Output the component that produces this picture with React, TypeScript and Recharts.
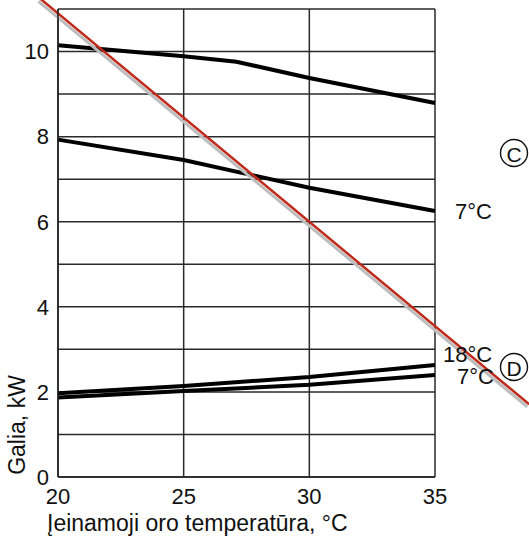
import React from "react";
import {
  LineChart,
  Line,
  XAxis,
  YAxis,
  CartesianGrid,
  ReferenceLine,
  Customized,
} from "recharts";

// temperature (°C) -> power (kW)
const coolingHigh = [
  { t: 20, p: 10.15 },
  { t: 25, p: 9.89 },
  { t: 27.1, p: 9.76 },
  { t: 30, p: 9.38 },
  { t: 35, p: 8.79 },
];
const cooling7 = [
  { t: 20, p: 7.93 },
  { t: 25, p: 7.45 },
  { t: 30, p: 6.8 },
  { t: 35, p: 6.25 },
];
const heating18 = [
  { t: 20, p: 1.97 },
  { t: 25, p: 2.14 },
  { t: 30, p: 2.35 },
  { t: 35, p: 2.63 },
];
const heating7 = [
  { t: 20, p: 1.87 },
  { t: 25, p: 2.02 },
  { t: 30, p: 2.17 },
  { t: 35, p: 2.4 },
];
// demand line, runs past the plot on both ends
const demandLine = [
  { x: 19.3, y: 11.24 },
  { x: 38.75, y: 1.71 },
];

const xTicks = [20, 25, 30, 35];
const yTicks = [0, 2, 4, 6, 8, 10];
const yGrid = [0, 1, 2, 3, 4, 5, 6, 7, 8, 9, 10, 11];

const FONT = "'Liberation Sans', Arial, sans-serif";
const INK = "#111";

function endLabel(text: string, count: number, dx: number, dy: number) {
  // eslint-disable-next-line @typescript-eslint/no-explicit-any
  return (props: any) => {
    if (props.index !== count - 1) return null;
    return (
      <text
        x={props.x + dx}
        y={props.y + dy}
        fontSize={22}
        fontFamily={FONT}
        fill={INK}
        dominantBaseline="central"
      >
        {text}
      </text>
    );
  };
}

// eslint-disable-next-line @typescript-eslint/no-explicit-any
function DemandShape(props: any) {
  const { x1, y1, x2, y2 } = props;
  return (
    <g>
      <line x1={x1 - 2} y1={y1 + 2.5} x2={x2 - 2} y2={y2 + 2.5} stroke="#bdbdbd" strokeWidth={3} />
      <line x1={x1} y1={y1} x2={x2} y2={y2} stroke="#bf2a1a" strokeWidth={2.5} />
    </g>
  );
}

function Circled({ cx, cy, letter }: { cx: number; cy: number; letter: string }) {
  return (
    <g>
      <circle cx={cx} cy={cy} r={13.5} fill="none" stroke={INK} strokeWidth={1.4} />
      <text
        x={cx}
        y={cy + 1}
        fontSize={21}
        fontFamily={FONT}
        fill={INK}
        textAnchor="middle"
        dominantBaseline="central"
      >
        {letter}
      </text>
    </g>
  );
}

function Annotations() {
  return (
    <g>
      <Circled cx={514} cy={153} letter="C" />
      <Circled cx={514} cy={367} letter="D" />
      <text
        x={25}
        y={425}
        transform="rotate(-90 25 425)"
        textAnchor="middle"
        fontSize={23}
        fontFamily={FONT}
        fill={INK}
      >
        Galia, kW
      </text>
      <text x={47} y={531} fontSize={23} fontFamily={FONT} fill={INK}>
        Įeinamoji oro temperatūra, °C
      </text>
    </g>
  );
}

const tickStyle = { fontSize: 22, fill: INK, fontFamily: FONT };

export default function App() {
  const lineProps = {
    type: "linear" as const,
    dataKey: "p",
    stroke: "#000",
    strokeWidth: 4,
    dot: false,
    activeDot: false,
    isAnimationActive: false,
  };

  return (
    <div style={{ position: "fixed", left: 0, top: 0, width: 529, height: 541, background: "#fff" }}>
      <LineChart width={529} height={541} margin={{ top: 9, right: 94, bottom: 0, left: 0 }}>
        <CartesianGrid
          stroke="#2a2a2a"
          strokeWidth={1.5}
          horizontalValues={yGrid}
          verticalValues={xTicks}
        />
        <XAxis
          dataKey="t"
          type="number"
          domain={[20, 35]}
          ticks={xTicks}
          height={64}
          fontSize={22}
          fontFamily={FONT}
          tick={tickStyle}
          axisLine={{ stroke: "#222", strokeWidth: 1.5 }}
          tickLine={false}
          tickSize={6}
          tickMargin={5}
          allowDuplicatedCategory={false}
        />
        <YAxis
          type="number"
          domain={[0, 11]}
          ticks={yTicks}
          width={58}
          fontSize={22}
          fontFamily={FONT}
          tick={tickStyle}
          axisLine={{ stroke: "#222", strokeWidth: 1.5 }}
          tickLine={false}
          tickSize={6}
          tickMargin={3}
        />
        <Line {...lineProps} data={coolingHigh} />
        <Line {...lineProps} data={cooling7} label={endLabel("7°C", cooling7.length, 20, 0)} />
        <Line {...lineProps} data={heating18} label={endLabel("18°C", heating18.length, 8, -11)} />
        <Line {...lineProps} data={heating7} label={endLabel("7°C", heating7.length, 22, 2)} />
        <ReferenceLine segment={demandLine} ifOverflow="visible" shape={DemandShape} />
        <Customized component={Annotations} />
      </LineChart>
    </div>
  );
}
